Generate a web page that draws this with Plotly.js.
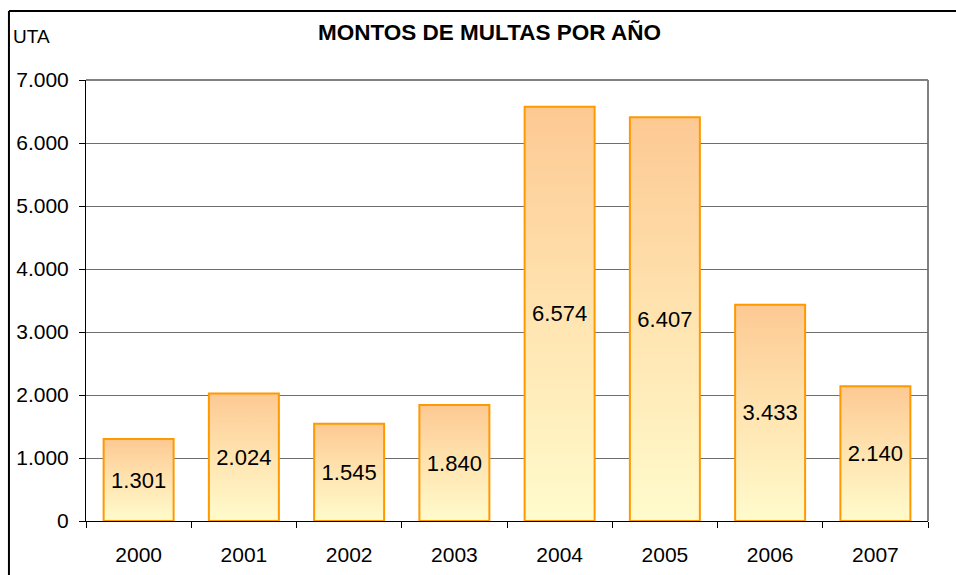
<!DOCTYPE html>
<html>
<head>
<meta charset="utf-8">
<script src="https://cdn.plot.ly/plotly-3.0.1.min.js"></script>
<style>
  html, body { margin: 0; padding: 0; background: #ffffff; }
  #chart { width: 956px; height: 575px; }
</style>
</head>
<body>
<div id="chart"></div>
<script>
const years = ['2000', '2001', '2002', '2003', '2004', '2005', '2006', '2007'];
const montos = [1301, 2024, 1545, 1840, 6574, 6407, 3433, 2140];
const yTickValues = [0, 1000, 2000, 3000, 4000, 5000, 6000, 7000];
const yTickLabels = ['0', '1.000', '2.000', '3.000', '4.000', '5.000', '6.000', '7.000'];
const chartTitle = 'MONTOS DE MULTAS POR AÑO';
const unitLabel = 'UTA';

function fmt(v) {
  return String(v).replace(/\B(?=(\d{3})+(?!\d))/g, '.');
}

const FONT = 'Liberation Sans, Arial, sans-serif';

const trace = {
  type: 'bar',
  x: years,
  y: montos,
  text: montos.map(fmt),
  textposition: 'inside',
  insidetextanchor: 'middle',
  textangle: 0,
  constraintext: 'none',
  insidetextfont: { family: FONT, size: 22, color: '#000000' },
  marker: { color: '#FFE2B0', line: { color: '#FF9900', width: 2 } },
  hoverinfo: 'none'
};

const layout = {
  width: 956,
  height: 575,
  margin: { l: 86, r: 28, t: 80, b: 54 },
  paper_bgcolor: '#ffffff',
  plot_bgcolor: '#ffffff',
  showlegend: false,
  bargap: 0.335,
  font: { family: FONT, size: 21, color: '#000000' },
  title: {
    text: '<b>' + chartTitle + '</b>',
    font: { family: FONT, size: 22.5, color: '#000000' },
    x: 0.512, xanchor: 'center', y: 0.945, yanchor: 'middle'
  },
  xaxis: {
    type: 'category',
    tickson: 'boundaries',
    ticks: 'outside',
    ticklen: 6,
    tickcolor: '#000000',
    showline: true,
    linecolor: '#000000',
    linewidth: 1,
    showgrid: false,
    ticklabelstandoff: 15,
    tickfont: { family: FONT, size: 21, color: '#000000' },
    fixedrange: true
  },
  yaxis: {
    range: [0, 7000],
    tickvals: yTickValues,
    ticktext: yTickLabels,
    ticks: 'outside',
    ticklen: 6,
    tickcolor: '#000000',
    showline: true,
    linecolor: '#000000',
    linewidth: 1,
    showgrid: true,
    gridcolor: '#6e6e6e',
    gridwidth: 1,
    zeroline: false,
    ticklabelstandoff: 6,
    tickfont: { family: FONT, size: 21, color: '#000000' },
    fixedrange: true
  },
  shapes: [
    { type: 'line', xref: 'paper', yref: 'paper', x0: 0, x1: 1, y0: 1, y1: 1,
      line: { color: '#808080', width: 2 }, layer: 'below' },
    { type: 'line', xref: 'paper', yref: 'paper', x0: 1, x1: 1, y0: 0, y1: 1,
      line: { color: '#808080', width: 2 }, layer: 'below' },
    { type: 'line', xref: 'paper', yref: 'paper', x0: -0.0915, x1: 1.2, y0: 1.1565, y1: 1.1565,
      line: { color: '#000000', width: 2 } },
    { type: 'line', xref: 'paper', yref: 'paper', x0: -0.0915, x1: -0.0915, y0: -0.3, y1: 1.1565,
      line: { color: '#000000', width: 2 } }
  ],
  annotations: [
    { text: unitLabel, xref: 'paper', yref: 'paper', x: -0.089, y: 1.098,
      xanchor: 'left', yanchor: 'middle', showarrow: false,
      font: { family: FONT, size: 19, color: '#000000' } }
  ]
};

Plotly.newPlot('chart', [trace], layout, { staticPlot: true, displayModeBar: false }).then(function (gd) {
  const svg = gd.querySelector('svg.main-svg');
  let defs = svg.querySelector('defs');
  const NS = 'http://www.w3.org/2000/svg';
  if (!defs) { defs = document.createElementNS(NS, 'defs'); svg.insertBefore(defs, svg.firstChild); }
  const grad = document.createElementNS(NS, 'linearGradient');
  grad.setAttribute('id', 'barGrad');
  grad.setAttribute('x1', '0'); grad.setAttribute('y1', '0');
  grad.setAttribute('x2', '0'); grad.setAttribute('y2', '1');
  [['0', '#FDC993'], ['0.5', '#FFE4B0'], ['1', '#FFFBCC']].forEach(function (s) {
    const st = document.createElementNS(NS, 'stop');
    st.setAttribute('offset', s[0]);
    st.setAttribute('stop-color', s[1]);
    grad.appendChild(st);
  });
  defs.appendChild(grad);
  gd.querySelectorAll('.barlayer .point path').forEach(function (p) {
    p.style.fill = 'url(#barGrad)';
  });
});
</script>
</body>
</html>
